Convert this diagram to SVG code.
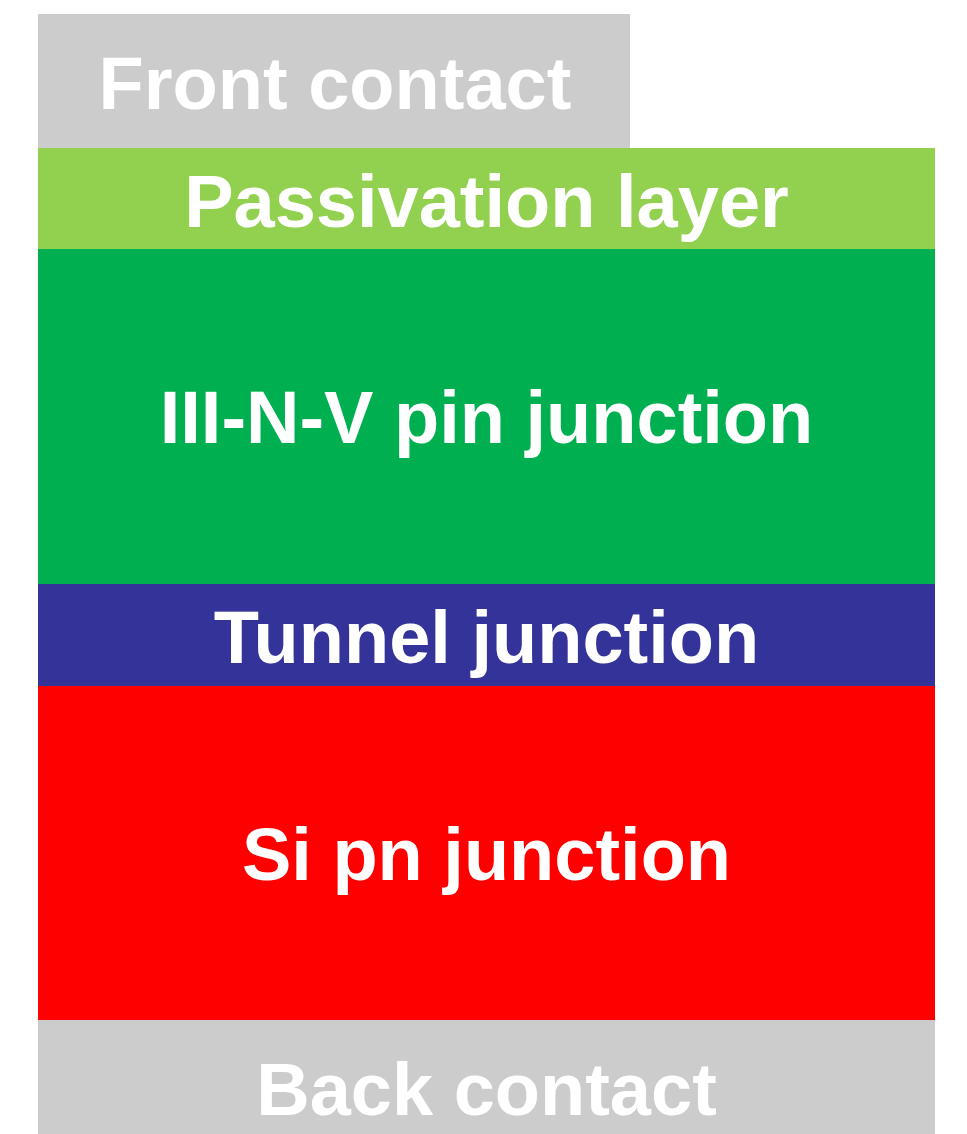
<svg xmlns="http://www.w3.org/2000/svg" width="967" height="1134" viewBox="0 0 967 1134">
<style>
text{font-family:"Liberation Sans",Arial,Helvetica,sans-serif;font-weight:bold;font-size:74px;fill:#FFFFFF;text-anchor:middle}
</style>
<rect width="967" height="1134" fill="#FFFFFF"/>
<g id="front-contact"><rect x="38" y="14" width="592" height="134" fill="#CCCCCC"/><text x="335" y="109">Front contact</text></g>
<g id="passivation-layer"><rect x="38" y="148" width="897" height="101" fill="#92D050"/><text x="486.5" y="227">Passivation layer</text></g>
<g id="iiinv-pin-junction"><rect x="38" y="249" width="897" height="335" fill="#00B050"/><text x="486.5" y="443">III-N-V pin junction</text></g>
<g id="tunnel-junction"><rect x="38" y="584" width="897" height="102" fill="#333399"/><text x="486.5" y="663">Tunnel junction</text></g>
<g id="si-pn-junction"><rect x="38" y="686" width="897" height="334" fill="#FF0000"/><text x="486.5" y="880">Si pn junction</text></g>
<g id="back-contact"><rect x="38" y="1020" width="897" height="114" fill="#CCCCCC"/><text x="486.5" y="1115">Back contact</text></g>
<g id="connectors"/>
</svg>
